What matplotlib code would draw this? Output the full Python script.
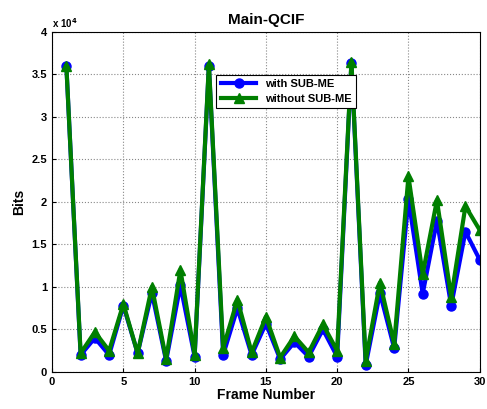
import numpy as np
import matplotlib
matplotlib.use("Agg")
import matplotlib.pyplot as plt

plt.rcParams['font.family'] = ['Liberation Sans', 'DejaVu Sans']
plt.rcParams['font.weight'] = 'bold'

frames = np.arange(1, 31)
with_sub = [3.60, 0.20, 0.40, 0.20, 0.78, 0.22, 0.93, 0.13, 1.02, 0.18,
            3.60, 0.20, 0.75, 0.20, 0.57, 0.15, 0.35, 0.18, 0.50, 0.18,
            3.63, 0.08, 0.93, 0.28, 2.03, 0.92, 1.78, 0.78, 1.65, 1.32]
without_sub = [3.60, 0.22, 0.47, 0.25, 0.80, 0.22, 1.00, 0.15, 1.20, 0.20,
               3.62, 0.28, 0.85, 0.23, 0.65, 0.17, 0.42, 0.23, 0.56, 0.25,
               3.65, 0.13, 1.05, 0.33, 2.30, 1.15, 2.02, 0.88, 1.95, 1.67]
with_sub = np.array(with_sub) * 1e4
without_sub = np.array(without_sub) * 1e4

fig = plt.figure(figsize=(4.87, 4.09), dpi=100)
ax = fig.add_axes([0.107, 0.0905, 0.878, 0.8315])

ax.plot(frames, with_sub, color='#0000ff', lw=3, marker='o', ms=6.5,
        label='with SUB-ME')
ax.plot(frames, without_sub, color='#007f00', lw=3, marker='^', ms=6.5,
        label='without SUB-ME')

ax.set_xlim(0, 30)
ax.set_ylim(0, 4e4)
ax.set_xticks(np.arange(0, 31, 5))
ax.set_yticks(np.arange(0, 4.01e4, 0.5e4))
ax.set_yticklabels(['0', '0.5', '1', '1.5', '2', '2.5', '3', '3.5', '4'])
ax.tick_params(labelsize=8, direction='in', length=3)
ax.grid(True, linestyle=':', color='#888888', lw=0.8)

ax.text(0.0, 1.005, r'x 10$^4$', transform=ax.transAxes, fontsize=7,
        ha='left', va='bottom', fontweight='bold')
ax.set_title('Main-QCIF', fontsize=11, fontweight='bold', pad=6)
ax.set_xlabel('Frame Number', fontsize=10, fontweight='bold', labelpad=1)
ax.set_ylabel('Bits', fontsize=10, fontweight='bold', labelpad=4)

leg = ax.legend(loc='upper left', bbox_to_anchor=(0.371, 0.89), fontsize=8,
                fancybox=False, edgecolor='black', framealpha=1,
                handlelength=3.2, borderpad=0.4, labelspacing=0.4)
leg.get_frame().set_linewidth(0.8)

fig.savefig('out.png', dpi=100)
